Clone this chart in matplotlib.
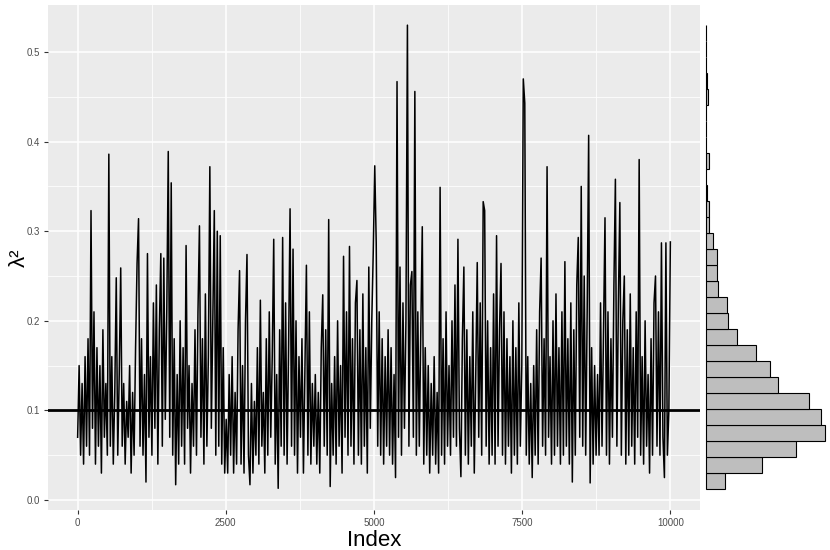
"""
Trace plot of lambda^2 draws with a marginal histogram.
"""

import matplotlib.pyplot as plt
import numpy as np

plt.rcParams["font.family"] = ["Liberation Sans", "DejaVu Sans"]

# trace values (one value per ~25 iterations)
lam2 = [
    0.07, 0.15, 0.05, 0.13, 0.04, 0.16, 0.06, 0.18, 0.05, 0.323,
    0.08, 0.21, 0.04, 0.17, 0.06, 0.15, 0.03, 0.19, 0.07, 0.13,
    0.05, 0.386, 0.06, 0.16, 0.04, 0.12, 0.248, 0.05, 0.14, 0.259,
    0.06, 0.13, 0.04, 0.11, 0.07, 0.15, 0.03, 0.12, 0.05, 0.17,
    0.264, 0.314, 0.06, 0.18, 0.05, 0.14, 0.02, 0.275, 0.07, 0.16,
    0.05, 0.22, 0.08, 0.24, 0.04, 0.19, 0.275, 0.06, 0.27, 0.09,
    0.21, 0.389, 0.07, 0.354, 0.05, 0.18, 0.017, 0.14, 0.04, 0.20,
    0.06, 0.17, 0.04, 0.284, 0.08, 0.15, 0.03, 0.13, 0.06, 0.19,
    0.05, 0.21, 0.306, 0.07, 0.18, 0.04, 0.23, 0.06, 0.16, 0.372,
    0.08, 0.20, 0.323, 0.05, 0.30, 0.06, 0.295, 0.04, 0.17, 0.03,
    0.09, 0.03, 0.14, 0.05, 0.16, 0.03, 0.12, 0.04, 0.19, 0.256,
    0.04, 0.15, 0.03, 0.20, 0.274, 0.05, 0.017, 0.13, 0.03, 0.11,
    0.05, 0.17, 0.04, 0.223, 0.06, 0.12, 0.03, 0.18, 0.05, 0.21,
    0.07, 0.16, 0.291, 0.04, 0.14, 0.013, 0.19, 0.06, 0.293, 0.05,
    0.22, 0.04, 0.17, 0.325, 0.06, 0.28, 0.05, 0.20, 0.03, 0.16,
    0.07, 0.18, 0.03, 0.15, 0.262, 0.05, 0.21, 0.04, 0.13, 0.06,
    0.14, 0.04, 0.12, 0.03, 0.17, 0.229, 0.06, 0.19, 0.05, 0.313,
    0.015, 0.13, 0.05, 0.16, 0.04, 0.20, 0.06, 0.15, 0.03, 0.272,
    0.07, 0.21, 0.05, 0.283, 0.06, 0.18, 0.04, 0.22, 0.245, 0.05,
    0.19, 0.04, 0.23, 0.06, 0.17, 0.03, 0.26, 0.08, 0.20, 0.277,
    0.373, 0.287, 0.06, 0.21, 0.05, 0.18, 0.04, 0.16, 0.06, 0.19,
    0.05, 0.17, 0.04, 0.14, 0.025, 0.467, 0.07, 0.26, 0.05, 0.22,
    0.08, 0.20, 0.530, 0.06, 0.24, 0.255, 0.07, 0.456, 0.05, 0.21,
    0.06, 0.19, 0.305, 0.04, 0.17, 0.05, 0.15, 0.03, 0.13, 0.05,
    0.16, 0.04, 0.12, 0.03, 0.349, 0.05, 0.18, 0.04, 0.21, 0.06,
    0.15, 0.05, 0.20, 0.07, 0.24, 0.06, 0.291, 0.08, 0.026, 0.18,
    0.26, 0.05, 0.19, 0.04, 0.16, 0.06, 0.21, 0.03, 0.14, 0.265,
    0.07, 0.22, 0.05, 0.333, 0.323, 0.06, 0.20, 0.04, 0.17, 0.05,
    0.23, 0.04, 0.295, 0.06, 0.19, 0.264, 0.05, 0.21, 0.04, 0.18,
    0.06, 0.16, 0.03, 0.20, 0.05, 0.17, 0.04, 0.22, 0.06, 0.15,
    0.470, 0.443, 0.05, 0.16, 0.04, 0.13, 0.025, 0.15, 0.05, 0.19,
    0.04, 0.21, 0.27, 0.06, 0.18, 0.05, 0.372, 0.07, 0.16, 0.04,
    0.20, 0.05, 0.23, 0.06, 0.17, 0.04, 0.21, 0.05, 0.266, 0.06,
    0.18, 0.04, 0.22, 0.02, 0.19, 0.05, 0.24, 0.293, 0.07, 0.350,
    0.06, 0.25, 0.05, 0.21, 0.407, 0.019, 0.17, 0.04, 0.15, 0.05,
    0.14, 0.05, 0.22, 0.06, 0.19, 0.315, 0.05, 0.21, 0.04, 0.18,
    0.07, 0.24, 0.358, 0.06, 0.22, 0.332, 0.05, 0.20, 0.25, 0.04,
    0.19, 0.05, 0.23, 0.06, 0.17, 0.04, 0.21, 0.07, 0.380, 0.05,
    0.16, 0.04, 0.20, 0.06, 0.14, 0.03, 0.18, 0.05, 0.22, 0.25,
    0.06, 0.21, 0.05, 0.287, 0.07, 0.025, 0.287, 0.05, 0.10, 0.288,
]
n_iter = 10000
ref_value = 0.1

# marginal histogram counts, bottom bin first
hist_counts = [232, 683, 1098, 1452, 1403, 1257, 878, 781, 610, 378,
               268, 256, 151, 134, 130, 85, 37, 40, 9, 4,
               37, 6, 4, 4, 24, 12, 4, 4, 4]
bin_start = 0.0123
bin_width = 0.01786

x_ticks = [0, 2500, 5000, 7500, 10000]
y_ticks = [0.0, 0.1, 0.2, 0.3, 0.4, 0.5]

index = np.linspace(1, n_iter, len(lam2))
ylim = (-0.0112, 0.5525)

fig = plt.figure(figsize=(8.3, 5.5), dpi=100)
ax = fig.add_axes([48 / 830, 1 - 510 / 550, 652 / 830, 505 / 550])
axh = fig.add_axes([705 / 830, 1 - 510 / 550, 123 / 830, 505 / 550])

# ggplot-ish grey panel
ax.set_facecolor("#EBEBEB")
for s in ax.spines.values():
    s.set_visible(False)
ax.set_xticks(x_ticks)
ax.set_xticks([1250, 3750, 6250, 8750], minor=True)
ax.set_yticks(y_ticks)
ax.set_yticks([0.05, 0.15, 0.25, 0.35, 0.45], minor=True)
ax.set_yticklabels([f"{v:.1f}" for v in y_ticks])
ax.set_xticklabels([str(v) for v in x_ticks])
ax.grid(which="major", color="white", linewidth=1.1)
ax.grid(which="minor", color="white", linewidth=0.55)
ax.set_axisbelow(True)
ax.tick_params(which="major", length=3, width=0.8, color="#333333",
               labelsize=7, labelcolor="#4D4D4D", pad=3)
ax.tick_params(which="minor", length=0)

ax.plot(index, lam2, color="black", linewidth=1.1)
ax.axhline(ref_value, color="black", linewidth=2)
ax.set_xlim(-499, 10500)
ax.set_ylim(*ylim)
ax.set_xlabel("Index", fontsize=16, labelpad=1)
ax.set_ylabel("λ²", fontsize=16)
ax.yaxis.set_label_coords(-0.028, 0.5)

# marginal histogram
centers = bin_start + bin_width * (np.arange(len(hist_counts)) + 0.5)
axh.barh(centers, hist_counts, height=bin_width, left=0,
         color="#BEBEBE", edgecolor="black", linewidth=0.8)
axh.set_ylim(*ylim)
axh.set_xlim(-12, 1489)
axh.axis("off")

fig.savefig("out.png", dpi=100)
